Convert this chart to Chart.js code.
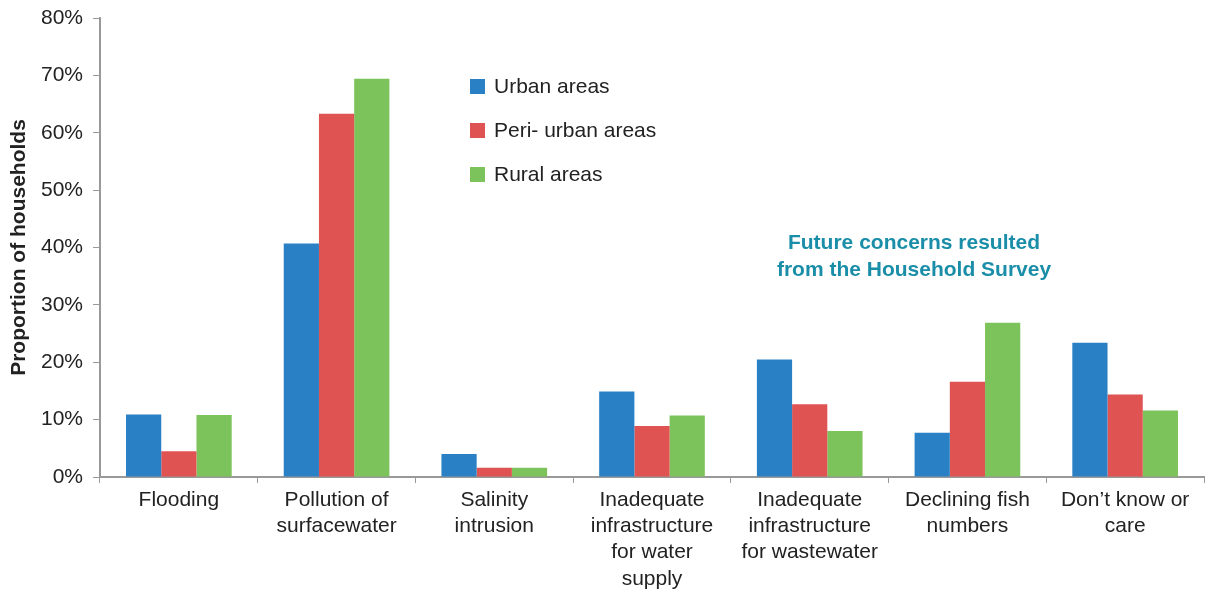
<!DOCTYPE html>
<html>
<head>
<meta charset="utf-8">
<script src="https://cdn.jsdelivr.net/npm/chart.js@4"></script>
<style>
  html, body { margin: 0; padding: 0; background: #fff; }
  #wrap { width: 1207px; height: 593px; position: relative; }
</style>
</head>
<body>
<div id="wrap"><canvas id="c"></canvas></div>
<script>
const categories = [
  ["Flooding"],
  ["Pollution of", "surfacewater"],
  ["Salinity", "intrusion"],
  ["Inadequate", "infrastructure", "for water", "supply"],
  ["Inadequate", "infrastructure", "for wastewater"],
  ["Declining fish", "numbers"],
  ["Don\u2019t know or", "care"]
];
const seriesNames = ["Urban areas", "Peri- urban areas", "Rural areas"];
const urban = [10.9, 40.7, 4.0, 14.9, 20.5, 7.7, 23.4];
const periUrban = [4.5, 63.3, 1.6, 8.9, 12.7, 16.6, 14.4];
const rural = [10.8, 69.4, 1.6, 10.7, 8.0, 26.9, 11.6];
const yTicks = [0, 10, 20, 30, 40, 50, 60, 70, 80];
const yTitle = "Proportion of households";
const annotationLines = ["Future concerns resulted", "from the Household Survey"];

const colors = ["#2a80c4", "#e05353", "#7dc35b"];
const FONT = "'Liberation Sans', Arial, Helvetica, sans-serif";

const legendPlugin = {
  id: 'customLegend',
  afterDraw(chart) {
    const ctx = chart.ctx;
    ctx.save();
    ctx.font = "21px " + FONT;
    ctx.textBaseline = 'middle';
    const x = 470, y0 = 86, dy = 44;
    chart.data.datasets.forEach((ds, i) => {
      const y = y0 + i * dy;
      ctx.fillStyle = ds.backgroundColor;
      ctx.fillRect(x, y - 7, 15, 15);
      ctx.fillStyle = '#222';
      ctx.fillText(ds.label, x + 24, y + 1);
    });
    ctx.font = "bold 21px " + FONT;
    ctx.fillStyle = '#1a8ea8';
    ctx.textAlign = 'center';
    annotationLines.forEach((t, i) => ctx.fillText(t, 914, 243 + i * 27));
    ctx.restore();
  }
};

new Chart(document.getElementById('c'), {
  type: 'bar',
  data: {
    labels: categories,
    datasets: [
      { label: seriesNames[0], data: urban, backgroundColor: colors[0] },
      { label: seriesNames[1], data: periUrban, backgroundColor: colors[1] },
      { label: seriesNames[2], data: rural, backgroundColor: colors[2] }
    ]
  },
  options: {
    responsive: true,
    maintainAspectRatio: false,
    animation: false,
    devicePixelRatio: 1,
    layout: { padding: { top: 18, right: 3, left: 0, bottom: 0 } },
    datasets: { bar: { barPercentage: 1.0, categoryPercentage: 0.67 } },
    plugins: {
      legend: { display: false },
      tooltip: { enabled: false }
    },
    scales: {
      x: {
        grid: { display: true, drawOnChartArea: false, drawTicks: true, tickLength: 6, color: '#999', offset: true },
        border: { color: '#999', width: 2 },
        ticks: {
          color: '#222',
          font: { family: FONT, size: 21, lineHeight: 1.25 },
          padding: 4,
          maxRotation: 0,
          autoSkip: false
        },
        afterFit(scale) { scale.height = 116; scale.paddingLeft = 0; scale.paddingRight = 0; }
      },
      y: {
        min: 0,
        max: 80,
        afterBuildTicks(scale) { scale.ticks = yTicks.map(v => ({ value: v })); },
        grid: { display: true, drawOnChartArea: false, drawTicks: true, tickLength: 7, color: '#999' },
        border: { color: '#999', width: 2 },
        ticks: {
          color: '#222',
          font: { family: FONT, size: 21 },
          padding: 10,
          callback: v => v + '%'
        },
        title: {
          display: true,
          text: yTitle,
          color: '#222',
          font: { family: FONT, size: 21, weight: 'bold' },
          padding: { top: 7, bottom: 0 }
        },
        afterFit(scale) { scale.width = 100; scale.paddingTop = 0; scale.paddingBottom = 0; }
      }
    }
  },
  plugins: [legendPlugin]
});
</script>
</body>
</html>
